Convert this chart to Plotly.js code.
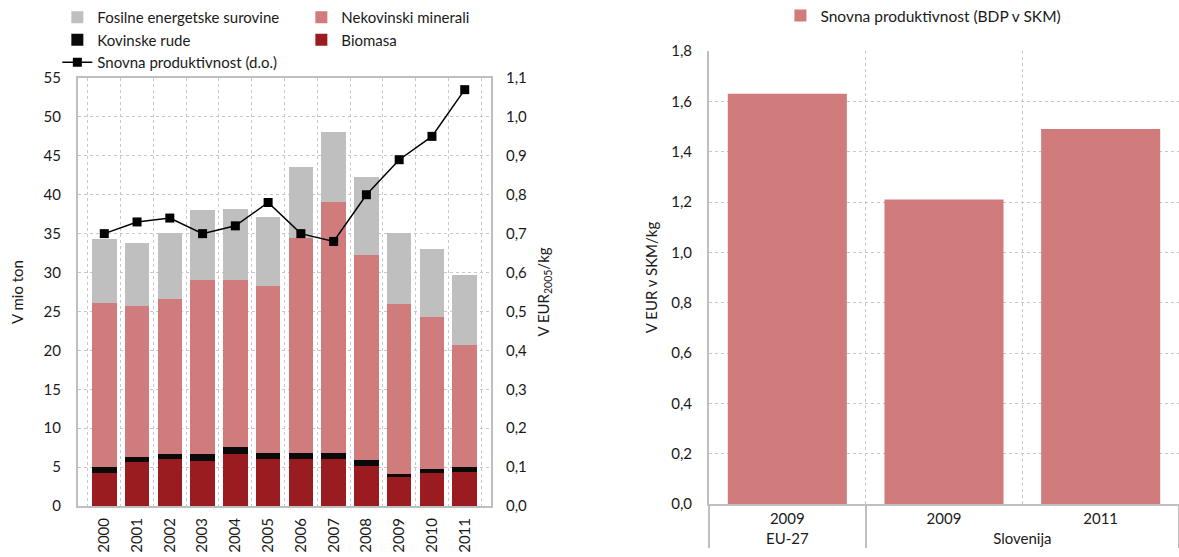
<!DOCTYPE html>
<html>
<head>
<meta charset="utf-8">
<script src="https://cdn.plot.ly/plotly-3.0.1.min.js"></script>
<style>
  html, body { margin: 0; padding: 0; background: #fff; }
  #left { position: absolute; left: 0; top: 0; width: 600px; height: 557px; }
  #right { position: absolute; left: 600px; top: 0; width: 579px; height: 557px; }
</style>
</head>
<body>
<div id="left"></div>
<div id="right"></div>
<script>
// ---- Left chart data ----
const years = ['2000','2001','2002','2003','2004','2005','2006','2007','2008','2009','2010','2011'];
const biomasa = [4.3, 5.6, 6.0, 5.75, 6.7, 6.1, 6.0, 6.0, 5.2, 3.7, 4.3, 4.4];
const kovinskeRude = [0.7, 0.7, 0.65, 0.9, 0.9, 0.7, 0.8, 0.8, 0.7, 0.4, 0.5, 0.6];
const nekovinskiMinerali = [21.1, 19.4, 19.95, 22.45, 21.5, 21.5, 27.7, 32.3, 26.4, 21.9, 19.5, 15.7];
const fosilneSurovine = [8.2, 8.1, 8.5, 8.9, 9.1, 8.8, 9.1, 9.0, 10.0, 9.1, 8.7, 9.0];
const snovnaProduktivnost = [0.70, 0.73, 0.74, 0.70, 0.72, 0.78, 0.70, 0.68, 0.80, 0.89, 0.95, 1.07];

// ---- Right chart data ----
const regions = ['EU-27', 'Slovenija', 'Slovenija'];
const regionYears = ['2009', '2009', '2011'];
const produktivnostBDP = [1.63, 1.21, 1.49];

const FONT = 'Lato, "Open Sans", sans-serif';
const GRID = '#c8c8c8';
const AXLINE = '#bfbfbf';
const C_FOS = '#bfbfbf', C_NEK = '#d07c7c', C_KOV = '#0a0a0a', C_BIO = '#9b1c20';

const leftTraces = [
  {type:'bar', name:'Biomasa', x:years, y:biomasa, marker:{color:C_BIO}, legendrank:4},
  {type:'bar', name:'Kovinske rude', x:years, y:kovinskeRude, marker:{color:C_KOV}, legendrank:3},
  {type:'bar', name:'Nekovinski minerali', x:years, y:nekovinskiMinerali, marker:{color:C_NEK}, legendrank:2},
  {type:'bar', name:'Fosilne energetske surovine', x:years, y:fosilneSurovine, marker:{color:C_FOS}, legendrank:1},
  {type:'scatter', mode:'lines+markers', name:'Snovna produktivnost (d.o.)', x:years, y:snovnaProduktivnost,
   yaxis:'y2', line:{color:'#000', width:1.5}, marker:{symbol:'square', size:9, color:'#000'}, legendrank:5}
];

const leftLayout = {
  width:600, height:557,
  margin:{l:78, r:109, t:78, b:51, autoexpand:false},
  paper_bgcolor:'#fff', plot_bgcolor:'#fff',
  separators:',.',
  font:{family:FONT, size:15, color:'#1a1a1a'},
  barmode:'stack', bargap:0.25,
  showlegend:true,
  legend:{orientation:'h', x:-0.05, xanchor:'left', y:1.18, yanchor:'top',
          entrywidth:199, traceorder:'normal', font:{size:15}, bgcolor:'rgba(0,0,0,0)'},
  xaxis:{type:'category', tickson:'boundaries', showgrid:true, gridcolor:GRID, griddash:'dot', gridwidth:1,
         tickangle:-90, ticks:'', showline:true, linecolor:AXLINE, linewidth:2, mirror:true,
         ticklabelstandoff:4, zeroline:false},
  yaxis:{range:[0,55], dtick:5, showgrid:true, gridcolor:GRID, griddash:'dot', gridwidth:1,
         showline:true, linecolor:AXLINE, linewidth:2, mirror:true, ticks:'', zeroline:false,
         ticklabelstandoff:12,
         title:{text:'V mio ton', standoff:16, font:{size:15}}},
  yaxis2:{overlaying:'y', side:'right', range:[0,1.1], dtick:0.1, tickformat:'.1f', showgrid:false,
          ticks:'', zeroline:false, showline:false, ticklabelstandoff:14,
          title:{text:'V EUR<sub>2005</sub>/kg', standoff:12, font:{size:15}}}
};

const rightTraces = [
  {type:'bar', name:'Snovna produktivnost (BDP v SKM)', x:[regions, regionYears], y:produktivnostBDP,
   marker:{color:C_NEK}, showlegend:true}
];

const rightLayout = {
  width:579, height:557,
  margin:{l:109, r:0, t:51, b:53, autoexpand:false},
  paper_bgcolor:'#fff', plot_bgcolor:'#fff',
  separators:',.',
  font:{family:FONT, size:15, color:'#1a1a1a'},
  bargap:0.24,
  showlegend:true,
  legend:{orientation:'h', x:0.152, xanchor:'left', y:1.115, yanchor:'top', font:{size:15.5}, bgcolor:'rgba(0,0,0,0)'},
  xaxis:{type:'multicategory', showgrid:true, gridcolor:GRID, griddash:'dot', gridwidth:1,
         showline:true, linecolor:AXLINE, linewidth:2, ticks:'', showdividers:true,
         dividercolor:AXLINE, dividerwidth:2, zeroline:false},
  yaxis:{range:[0,1.8], dtick:0.2, tickformat:'.1f', showgrid:true, gridcolor:GRID, griddash:'dot', gridwidth:1,
         showline:true, linecolor:AXLINE, linewidth:2, ticks:'', zeroline:false, ticklabelstandoff:12,
         title:{text:'V EUR v SKM/kg', standoff:10, font:{size:15}}}
};

Plotly.newPlot('left', leftTraces, leftLayout, {displayModeBar:false, staticPlot:true});
Plotly.newPlot('right', rightTraces, rightLayout, {displayModeBar:false, staticPlot:true});
</script>
</body>
</html>
